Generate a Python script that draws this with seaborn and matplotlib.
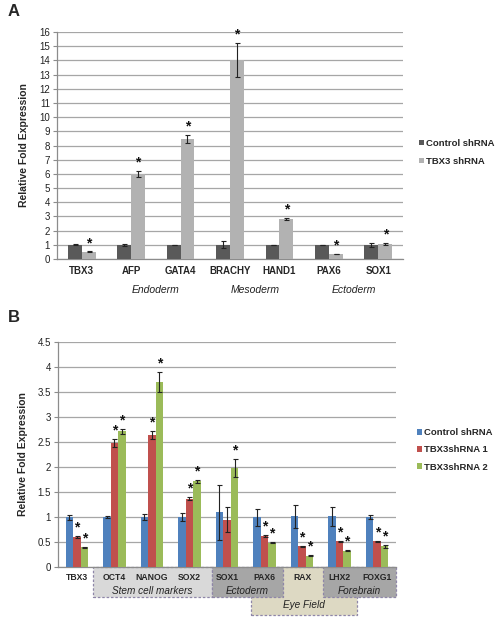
import pandas as pd
import matplotlib.pyplot as plt
import matplotlib.patches as mpatches
import matplotlib.transforms as mtransforms
import seaborn as sns

# ---- Panel A data ----
genes_a = ['TBX3', 'AFP', 'GATA4', 'BRACHY', 'HAND1', 'PAX6', 'SOX1']
ctrl_a = [1.0, 1.0, 1.0, 1.0, 1.0, 1.0, 1.0]
ctrl_a_err = [0.03, 0.07, 0.02, 0.25, 0.02, 0.02, 0.15]
kd_a = [0.5, 6.0, 8.45, 14.0, 2.8, 0.35, 1.07]
kd_a_err = [0.03, 0.2, 0.3, 1.2, 0.08, 0.02, 0.05]
groups_a = ['Endoderm', 'Mesoderm', 'Ectoderm']

# ---- Panel B data ----
genes_b = ['TBX3', 'OCT4', 'NANOG', 'SOX2', 'SOX1', 'PAX6', 'RAX', 'LHX2', 'FOXG1']
ctrl_b = [1.0, 1.0, 1.0, 1.0, 1.1, 1.0, 1.02, 1.02, 1.0]
ctrl_b_err = [0.05, 0.02, 0.06, 0.08, 0.55, 0.17, 0.23, 0.19, 0.04]
sh1_b = [0.6, 2.48, 2.65, 1.37, 0.95, 0.63, 0.42, 0.52, 0.52]
sh1_b_err = [0.02, 0.08, 0.08, 0.03, 0.25, 0.02, 0.01, 0.01, 0.01]
sh2_b = [0.4, 2.72, 3.7, 1.72, 1.98, 0.49, 0.23, 0.33, 0.42]
sh2_b_err = [0.01, 0.05, 0.2, 0.03, 0.18, 0.01, 0.01, 0.01, 0.03]
star_ctrl_b = [False] * 9
star_sh1_b = [True, True, True, True, False, True, True, True, True]
star_sh2_b = [True] * 9

sns.set_theme(style='white')
plt.rcParams['font.family'] = ['Liberation Sans', 'DejaVu Sans']

fig = plt.figure(figsize=(5.01, 6.2), dpi=100)
axA = fig.add_axes([57 / 501, 1 - 259 / 620, 346 / 501, 227 / 620])
axB = fig.add_axes([58 / 501, 1 - 567 / 620, 338 / 501, 225 / 620])


def style_axes(ax, xsize):
    ax.yaxis.grid(True, color='#a6a6a6', linewidth=0.9)
    ax.set_axisbelow(True)
    for s in ['top', 'right']:
        ax.spines[s].set_visible(False)
    ax.spines['left'].set_color('#8c8c8c')
    ax.spines['bottom'].set_color('#8c8c8c')
    ax.spines['left'].set_linewidth(0.9)
    ax.spines['bottom'].set_linewidth(0.9)
    ax.tick_params(axis='y', left=True, length=3, color='#8c8c8c', width=0.8,
                   labelsize=7, colors='#222222', pad=2)
    ax.tick_params(axis='x', bottom=False, length=0, labelsize=xsize, pad=5)
    for t in ax.get_xticklabels():
        t.set_fontweight('bold')
    ax.set_xlabel('')
    ax.set_ylabel('Relative Fold Expression', fontsize=7.5, fontweight='bold', labelpad=7)


def add_errs(ax, errs, stars, dy):
    for cont, err, st in zip(ax.containers, errs, stars):
        for patch, e, s in zip(cont.patches, err, st):
            x = patch.get_x() + patch.get_width() / 2
            h = patch.get_height()
            ax.errorbar(x, h, yerr=e, color='#222222', capsize=1.8,
                        elinewidth=0.8, capthick=0.8, zorder=5)
            if s:
                ax.text(x, h + e + dy * 0.1, '*', ha='center', va='bottom',
                        fontsize=10, fontweight='bold', color='#111111')


# ---- Panel A ----
dfA = pd.DataFrame({
    'gene': genes_a * 2,
    'value': ctrl_a + kd_a,
    'cond': ['Control shRNA'] * 7 + ['TBX3 shRNA'] * 7,
})
sns.barplot(data=dfA, x='gene', y='value', hue='cond', ax=axA, width=0.56,
            palette=['#595959', '#b2b2b2'], saturation=1, errorbar=None,
            edgecolor='none', zorder=3)
axA.set_ylim(0, 16)
axA.set_yticks(range(0, 17))
axA.set_xlim(-0.5, 6.5)
style_axes(axA, 7)
add_errs(axA, [ctrl_a_err, kd_a_err], [[False] * 7, [True] * 7], 1.0)
trA = mtransforms.blended_transform_factory(axA.transData, axA.transAxes)
for xc, g in zip([1.5, 3.5, 5.5], groups_a):
    axA.text(xc, -0.135, g, transform=trA,
             ha='center', va='center', fontsize=7.5, style='italic', color='#222222')
h, l = axA.get_legend_handles_labels()
axA.legend(h, l, loc='center left', bbox_to_anchor=(1.035, 0.47), frameon=False,
           handlelength=0.55, handleheight=0.55, handletextpad=0.25, labelspacing=0.95,
           borderaxespad=0, prop={'size': 6.8, 'weight': 'bold'})
fig.text(8 / 501, 1 - 12 / 620, 'A', fontsize=12, fontweight='bold', va='center')

# ---- Panel B ----
dfB = pd.DataFrame({
    'gene': genes_b * 3,
    'value': ctrl_b + sh1_b + sh2_b,
    'cond': ['Control shRNA'] * 9 + ['TBX3shRNA 1'] * 9 + ['TBX3shRNA 2'] * 9,
})
sns.barplot(data=dfB, x='gene', y='value', hue='cond', ax=axB, width=0.6,
            palette=['#4f81bd', '#c0504d', '#9bbb59'], saturation=1, errorbar=None,
            edgecolor='none', zorder=3)
axB.set_ylim(0, 4.5)
axB.set_yticks([0, 0.5, 1, 1.5, 2, 2.5, 3, 3.5, 4, 4.5])
axB.set_yticklabels(['0', '0.5', '1', '1.5', '2', '2.5', '3', '3.5', '4', '4.5'])
axB.set_xlim(-0.5, 8.5)
style_axes(axB, 6.2)
axB.tick_params(axis='x', pad=4.5)
add_errs(axB, [ctrl_b_err, sh1_b_err, sh2_b_err], [star_ctrl_b, star_sh1_b, star_sh2_b], 0.28)

trB = mtransforms.blended_transform_factory(axB.transData, axB.transAxes)
boxes = [
    (4.65, 7.45, -0.213, '#ddd9c3', 'Eye Field', -0.168),
    (0.42, 3.6, -0.133, '#d9d9d9', 'Stem cell markers', -0.105),
    (3.6, 5.5, -0.133, '#a6a6a6', 'Ectoderm', -0.105),
    (6.55, 8.5, -0.133, '#a6a6a6', 'Forebrain', -0.105),
]
for x0, x1, yb, col, lab, ylab in boxes:
    r = mpatches.Rectangle((x0, yb), x1 - x0, -yb, transform=trB, facecolor=col,
                           edgecolor='#8e86a8', linestyle=(0, (2, 1.5)), linewidth=0.9,
                           clip_on=False, zorder=0)
    axB.add_patch(r)
    axB.text((x0 + x1) / 2, ylab, lab, transform=trB, ha='center', va='center',
             fontsize=7.2, style='italic', color='#222222', zorder=2)
for t in axB.get_xticklabels():
    t.set_zorder(4)
h, l = axB.get_legend_handles_labels()
axB.legend(h, l, loc='center left', bbox_to_anchor=(1.05, 0.52), frameon=False,
           handlelength=0.55, handleheight=0.55, handletextpad=0.25, labelspacing=0.85,
           borderaxespad=0, prop={'size': 6.8, 'weight': 'bold'})
fig.text(8 / 501, 1 - 318 / 620, 'B', fontsize=12, fontweight='bold', va='center')

plt.savefig('out.png', dpi=100)
